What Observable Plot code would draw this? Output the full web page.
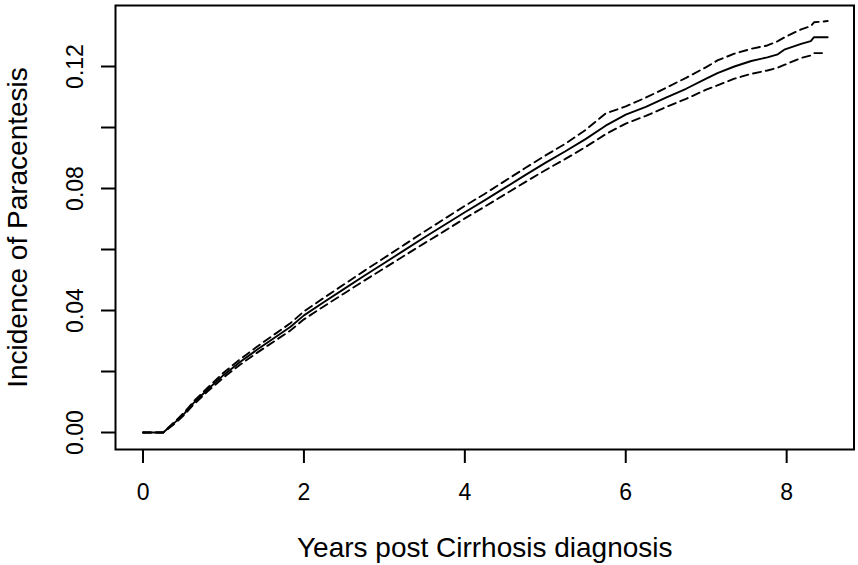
<!DOCTYPE html>
<html><head><meta charset="utf-8">
<script src="https://cdn.jsdelivr.net/npm/d3@7"></script>
<script src="https://cdn.jsdelivr.net/npm/@observablehq/plot@0.6"></script>
<style>
body{margin:0;background:#fff}
svg{font-family:"Liberation Sans",Arial,Helvetica,sans-serif}
</style>
</head><body><div id="chart"></div>
<script>
// Years since cirrhosis diagnosis
const years = [0, 0.25, 0.38, 0.51, 0.63, 0.80, 1.00, 1.21, 1.42, 1.63, 1.83, 2.00, 2.25, 2.50, 2.75, 3.00, 3.25, 3.50, 3.75, 4.00, 4.25, 4.50, 4.75, 5.00, 5.25, 5.50, 5.75, 6.00, 6.25, 6.50, 6.75, 7.00, 7.14, 7.35, 7.56, 7.76, 7.89, 7.97, 8.18, 8.30, 8.34, 8.44, 8.51];
// Cumulative incidence estimate
const incidence = [0, 0, 0.0029, 0.0061, 0.0097, 0.0140, 0.0188, 0.0232, 0.0272, 0.0310, 0.0346, 0.0384, 0.0428, 0.0471, 0.0514, 0.0556, 0.0598, 0.0640, 0.0681, 0.0722, 0.0762, 0.0803, 0.0844, 0.0884, 0.0922, 0.0962, 0.1006, 0.1042, 0.1068, 0.1098, 0.1127, 0.1160, 0.1178, 0.1200, 0.1218, 0.1230, 0.1240, 0.1255, 0.1274, 0.1283, 0.1296, 0.1296, 0.1296];
// Upper confidence limit
const upperCI = [0, 0, 0.0032, 0.0065, 0.0102, 0.0146, 0.0196, 0.0241, 0.0282, 0.0321, 0.0358, 0.0397, 0.0442, 0.0486, 0.0530, 0.0573, 0.0616, 0.0659, 0.0701, 0.0743, 0.0783, 0.0825, 0.0867, 0.0908, 0.0947, 0.0992, 0.1046, 0.1069, 0.1098, 0.1130, 0.1163, 0.1198, 0.1220, 0.1242, 0.1258, 0.1269, 0.1283, 0.1295, 0.1322, 0.1332, 0.1345, 0.1347, 0.1349];
// Lower confidence limit
const lowerCI = [0, 0, 0.0026, 0.0057, 0.0092, 0.0134, 0.0180, 0.0223, 0.0262, 0.0299, 0.0334, 0.0371, 0.0414, 0.0456, 0.0498, 0.0539, 0.0580, 0.0621, 0.0661, 0.0702, 0.0741, 0.0781, 0.0821, 0.0860, 0.0897, 0.0936, 0.0978, 0.1013, 0.1038, 0.1067, 0.1094, 0.1124, 0.1138, 0.1160, 0.1176, 0.1187, 0.1196, 0.1205, 0.1228, 0.1236, 0.1244, 0.1244, null];

const xTicks = [0, 2, 4, 6, 8];
const yTicks = [0, 0.02, 0.04, 0.06, 0.08, 0.10, 0.12];
const yLabelled = [0, 0.04, 0.08, 0.12];
const xTitle = "Years post Cirrhosis diagnosis";
const yTitle = "Incidence of Paracentesis";

const data = years.map((t, i) => ({t, est: incidence[i], hi: upperCI[i], lo: lowerCI[i]}));

const chart = Plot.plot({
  width: 858, height: 565,
  marginLeft: 115, marginRight: 4.5, marginTop: 5, marginBottom: 116,
  style: {fontFamily: '"Liberation Sans", Arial, sans-serif', background: "white", color: "black"},
  x: {domain: [-0.342, 8.837]},
  y: {domain: [-0.00557, 0.14]},
  marks: [
    Plot.axisX(xTicks, {tickSize: 14, tickPadding: 20, fontSize: 23, strokeWidth: 2, label: null, tickFormat: d => String(d)}),
    Plot.axisY(yTicks, {tickSize: 14, tickPadding: 19, tickRotate: -90, fontSize: 23, strokeWidth: 2, label: null,
      tickFormat: d => yLabelled.includes(d) ? d3.format(".2f")(d) : ""}),
    Plot.line(data, {x: "t", y: "lo", stroke: "black", strokeWidth: 1.9, strokeDasharray: "8,5"}),
    Plot.line(data, {x: "t", y: "hi", stroke: "black", strokeWidth: 1.9, strokeDasharray: "8,5"}),
    Plot.line(data, {x: "t", y: "est", stroke: "black", strokeWidth: 1.9}),
    Plot.frame({stroke: "black", strokeWidth: 2}),
    Plot.text([xTitle], {text: d => d, frameAnchor: "bottom", dy: 107, lineAnchor: "bottom", textAnchor: "middle", fontSize: 28}),
    Plot.text([yTitle], {text: d => d, frameAnchor: "left", dx: -89, rotate: -90, lineAnchor: "bottom", textAnchor: "middle", fontSize: 28})
  ]
});
document.getElementById("chart").appendChild(chart);
</script>
</body></html>
